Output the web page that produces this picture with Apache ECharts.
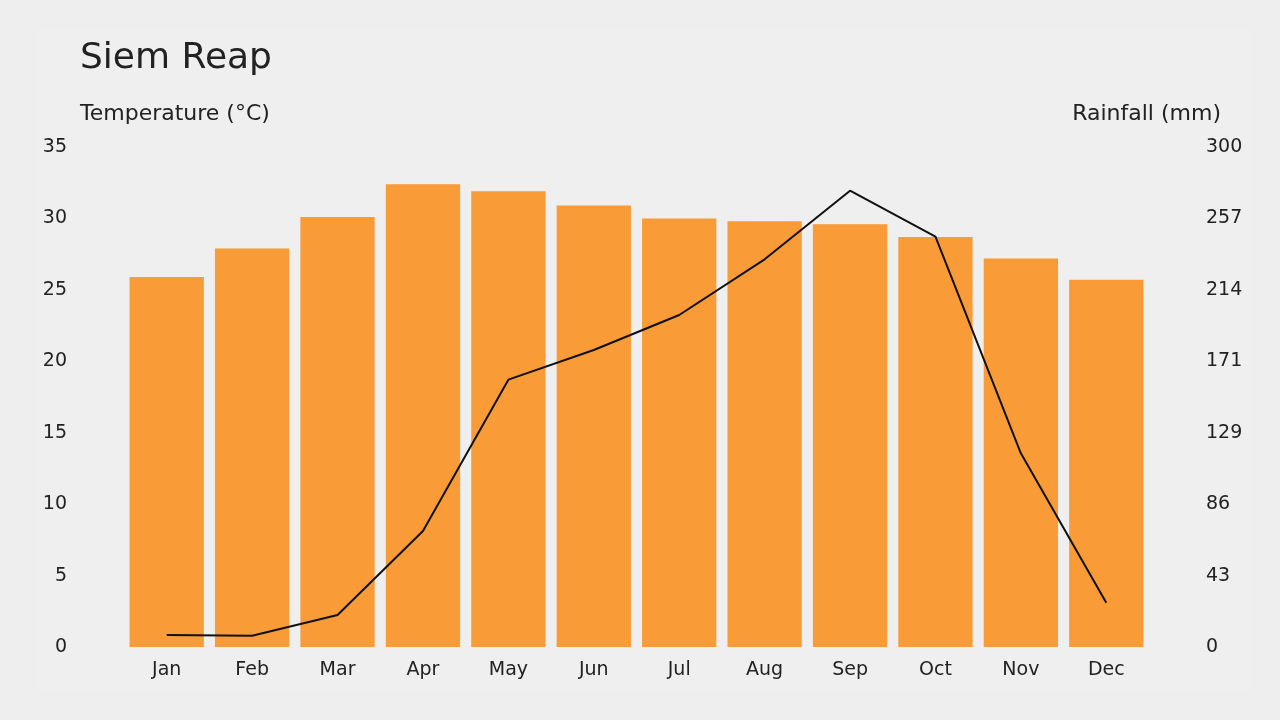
<!DOCTYPE html>
<html>
<head>
<meta charset="utf-8">
<title>Siem Reap</title>
<script src="https://cdn.jsdelivr.net/npm/echarts@6/dist/echarts.min.js"></script>
<style>
  html, body { margin: 0; padding: 0; background: #eeeeee; }
  #chart { width: 1280px; height: 720px; }
</style>
</head>
<body>
<div id="chart"></div>
<script>
const months = ['Jan', 'Feb', 'Mar', 'Apr', 'May', 'Jun', 'Jul', 'Aug', 'Sep', 'Oct', 'Nov', 'Dec'];
const temperature = [25.9, 27.9, 30.1, 32.4, 31.9, 30.9, 30.0, 29.8, 29.6, 28.7, 27.2, 25.7];
const rainfall = [7.2, 6.8, 19.2, 69.6, 160.4, 178.2, 199.2, 232.6, 273.8, 246.2, 116.2, 26.6];
const tempTicks = { min: 0, max: 35, interval: 5 };
const rainTicks = { min: 0, max: 300, interval: 300 / 7 };

const font = 'DejaVu Sans';
const textColor = '#222222';

const chart = echarts.init(document.getElementById('chart'));

chart.setOption({
  backgroundColor: '#eeeeee',
  animation: false,
  textStyle: { fontFamily: font },
  title: {
    text: 'Siem Reap',
    left: 80,
    top: 41,
    padding: 0,
    textStyle: { fontFamily: font, fontSize: 36, fontWeight: 'normal', color: textColor }
  },
  graphic: [
    {
      type: 'rect', z: -10, silent: true,
      shape: { x: 35, y: 30, width: 1215, height: 660 },
      style: { fill: '#efefef' }
    },
    {
      type: 'text', left: 80, top: 103,
      style: { text: 'Temperature (°C)', font: '22px "DejaVu Sans"', fill: textColor }
    },
    {
      type: 'text', right: 59, top: 103,
      style: { text: 'Rainfall (mm)', font: '22px "DejaVu Sans"', fill: textColor }
    }
  ],
  grid: { left: 124, right: 131, top: 147, bottom: 73 },
  xAxis: {
    type: 'category',
    data: months,
    axisLine: { show: false },
    axisTick: { show: false },
    axisLabel: { color: textColor, fontSize: 19, margin: 14, fontFamily: font }
  },
  yAxis: [
    {
      type: 'value',
      min: tempTicks.min, max: tempTicks.max, interval: tempTicks.interval,
      splitLine: { show: false },
      axisLine: { show: false },
      axisTick: { show: false },
      axisLabel: { color: textColor, fontSize: 19, margin: 57, fontFamily: font }
    },
    {
      type: 'value',
      min: rainTicks.min, max: rainTicks.max, interval: rainTicks.interval,
      splitLine: { show: false },
      axisLine: { show: false },
      axisTick: { show: false },
      axisLabel: {
        color: textColor, fontSize: 19, margin: 57, fontFamily: font,
        formatter: v => Math.round(v)
      }
    }
  ],
  series: [
    {
      name: 'Temperature',
      type: 'bar',
      yAxisIndex: 0,
      data: temperature,
      barCategoryGap: '13%',
      itemStyle: { color: '#f99b37' }
    },
    {
      name: 'Rainfall',
      type: 'line',
      yAxisIndex: 1,
      data: rainfall,
      symbol: 'none',
      lineStyle: { color: '#111111', width: 2 }
    }
  ]
});
</script>
</body>
</html>
